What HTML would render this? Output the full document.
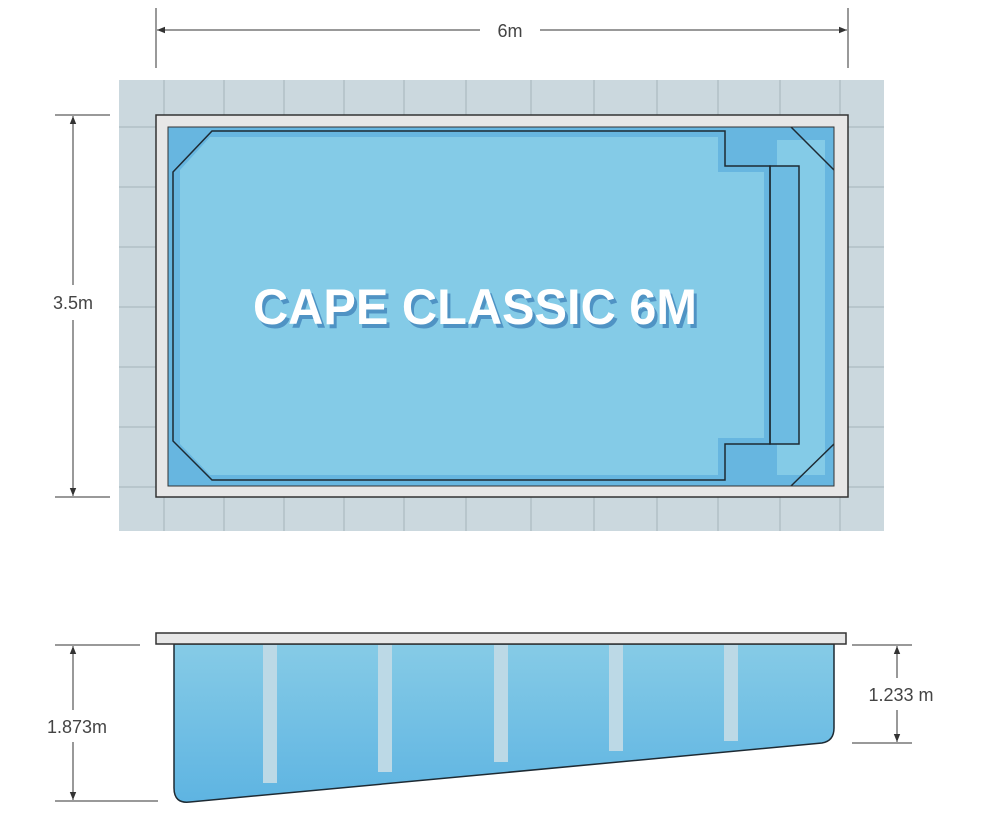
<!DOCTYPE html>
<html><head><meta charset="utf-8"><style>
html,body{margin:0;padding:0;background:#fff;}
svg{display:block;font-family:"Liberation Sans",sans-serif;}
</style></head><body>
<svg width="984" height="816" viewBox="0 0 984 816" xmlns="http://www.w3.org/2000/svg">
<defs>
<linearGradient id="sg" x1="0" y1="0" x2="0" y2="1">
<stop offset="0" stop-color="#86cbe6"/><stop offset="1" stop-color="#5eb4e2"/>
</linearGradient>
<marker id="ar" viewBox="0 0 10 10" refX="10" refY="5" markerWidth="8" markerHeight="8" orient="auto-start-reverse">
<path d="M0,1 L10,5 L0,9 Z" fill="#333"/>
</marker>
</defs>
<rect x="119" y="80" width="765" height="451" fill="#cbd8de"/>
<g stroke="#a5b4bb" stroke-width="1">
<line x1="164" y1="80" x2="164" y2="531"/><line x1="224" y1="80" x2="224" y2="531"/>
<line x1="284" y1="80" x2="284" y2="531"/><line x1="344" y1="80" x2="344" y2="531"/>
<line x1="404" y1="80" x2="404" y2="531"/><line x1="466" y1="80" x2="466" y2="531"/>
<line x1="531" y1="80" x2="531" y2="531"/><line x1="594" y1="80" x2="594" y2="531"/>
<line x1="657" y1="80" x2="657" y2="531"/><line x1="718" y1="80" x2="718" y2="531"/>
<line x1="780" y1="80" x2="780" y2="531"/><line x1="840" y1="80" x2="840" y2="531"/>
<line x1="119" y1="127" x2="884" y2="127"/><line x1="119" y1="187" x2="884" y2="187"/>
<line x1="119" y1="247" x2="884" y2="247"/><line x1="119" y1="307" x2="884" y2="307"/>
<line x1="119" y1="367" x2="884" y2="367"/><line x1="119" y1="427" x2="884" y2="427"/>
<line x1="119" y1="487" x2="884" y2="487"/>
</g>
<rect x="156" y="115" width="692" height="382" fill="#e7e7e7" stroke="#333" stroke-width="1.5"/>
<rect x="168" y="127" width="666" height="359" fill="#67b6e0"/>
<polygon points="180,170 210,137 718,137 718,172 764,172 764,438 718,438 718,475 210,475 180,444" fill="#84cbe7"/>
<rect x="777" y="140" width="48" height="335" fill="#84cbe7"/>
<rect x="770" y="166" width="29" height="278" fill="#6dbbe2"/>
<polygon points="173,172 212,131 725,131 725,166 770,166 770,444 725,444 725,480 212,480 173,441" fill="none" stroke="#1d2a33" stroke-width="1.5"/>
<rect x="770" y="166" width="29" height="278" fill="none" stroke="#1d2a33" stroke-width="1.5"/>
<line x1="791" y1="127" x2="834" y2="170" stroke="#1d2a33" stroke-width="1.5"/>
<line x1="791" y1="486" x2="834" y2="444" stroke="#1d2a33" stroke-width="1.5"/>
<rect x="168" y="127" width="666" height="359" fill="none" stroke="#333" stroke-width="1"/>
<text x="478" y="328" font-size="50" font-weight="bold" fill="#4f93c4" text-anchor="middle" textLength="444" lengthAdjust="spacingAndGlyphs">CAPE CLASSIC 6M</text>
<text x="475" y="324" font-size="50" font-weight="bold" fill="#fff" text-anchor="middle" textLength="444" lengthAdjust="spacingAndGlyphs">CAPE CLASSIC 6M</text>
<path d="M174,644 L174,788 Q174,804 190,802 L822,743 Q834,741 834,728 L834,644 Z" fill="url(#sg)" stroke="#1d2a33" stroke-width="1.5"/>
<g fill="#bcd9e6">
<rect x="263" y="645" width="14" height="138"/><rect x="378" y="645" width="14" height="127"/>
<rect x="494" y="645" width="14" height="117"/><rect x="609" y="645" width="14" height="106"/>
<rect x="724" y="645" width="14" height="96"/>
</g>
<rect x="156" y="633" width="690" height="11" fill="#e7e7e7" stroke="#333" stroke-width="1.5"/>
<g stroke="#333" stroke-width="1" fill="none">
<line x1="156" y1="8" x2="156" y2="68"/><line x1="848" y1="8" x2="848" y2="68"/>
<line x1="157" y1="30" x2="480" y2="30" marker-start="url(#ar)"/>
<line x1="540" y1="30" x2="847" y2="30" marker-end="url(#ar)"/>
<line x1="55" y1="115" x2="110" y2="115"/><line x1="55" y1="497" x2="110" y2="497"/>
<line x1="73" y1="116" x2="73" y2="285" marker-start="url(#ar)"/>
<line x1="73" y1="320" x2="73" y2="496" marker-end="url(#ar)"/>
<line x1="55" y1="645" x2="140" y2="645"/><line x1="55" y1="801" x2="158" y2="801"/>
<line x1="73" y1="646" x2="73" y2="710" marker-start="url(#ar)"/>
<line x1="73" y1="742" x2="73" y2="800" marker-end="url(#ar)"/>
<line x1="852" y1="645" x2="912" y2="645"/><line x1="852" y1="743" x2="912" y2="743"/>
<line x1="897" y1="646" x2="897" y2="678" marker-start="url(#ar)"/>
<line x1="897" y1="710" x2="897" y2="742" marker-end="url(#ar)"/>
</g>
<g font-size="18" fill="#444" text-anchor="middle">
<text x="510" y="37">6m</text>
<text x="73" y="309">3.5m</text>
<text x="77" y="733">1.873m</text>
<text x="901" y="701">1.233 m</text>
</g>
</svg>
</body></html>
